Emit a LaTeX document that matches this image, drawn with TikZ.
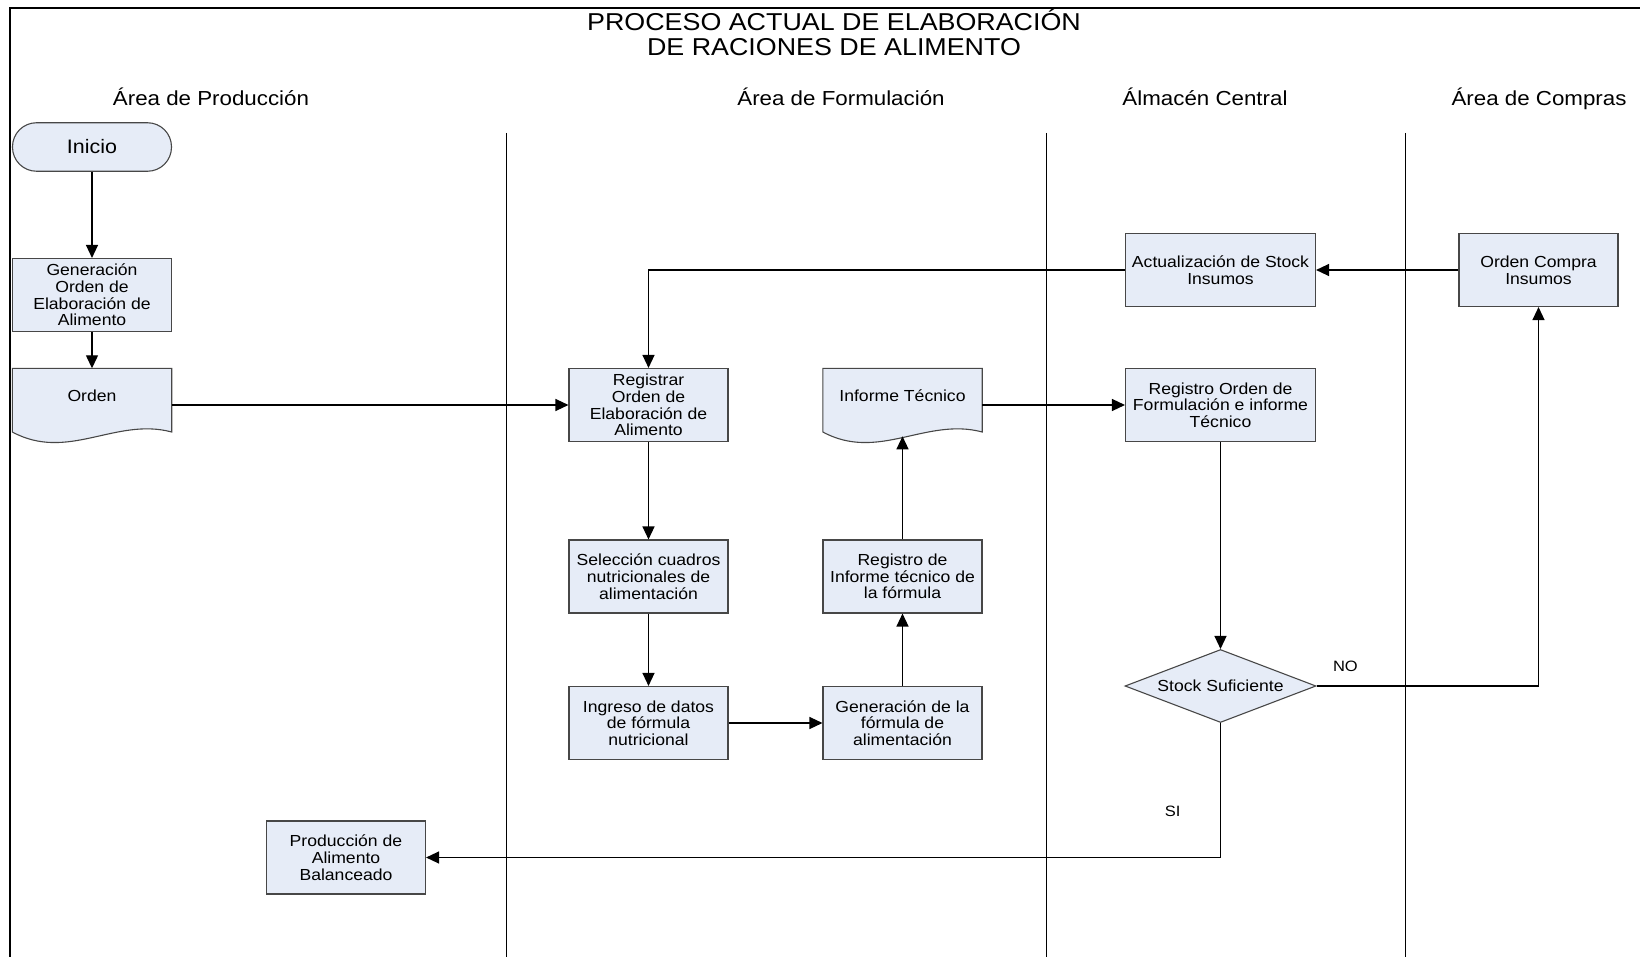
\documentclass[tikz,border=0pt]{standalone}
\usepackage{fontspec}
\setmainfont{Liberation Sans}[FakeStretch=1.1]
\usepackage{tikz}
\usetikzlibrary{arrows.meta,shapes.geometric,calc,backgrounds}
\definecolor{relleno}{HTML}{E6ECF7}
\definecolor{borde}{HTML}{474747}
\tikzstyle{caja} = [draw=borde, line width=1.1pt, fill=relleno, minimum width=159pt, minimum height=73pt, inner sep=2pt, align=center, font=\fontsize{16}{16.7}\selectfont]
\tikzstyle{cajaancha} = [caja, minimum width=190pt]
\tikzstyle{inicio} = [caja, rounded corners=24pt, minimum height=48.5pt, font=\fontsize{19.5}{22}\selectfont]
\tikzstyle{decision} = [caja, diamond, aspect=2.6, minimum width=191pt, minimum height=73pt, inner sep=0pt]
\tikzstyle{doc} = [minimum width=159pt, minimum height=73pt, inner sep=0pt, text height=12pt, text depth=19pt, font=\fontsize{16}{16.7}\selectfont]
\tikzstyle{carril} = [line width=0.9pt]
\tikzstyle{flecha} = [->, line width=1.3pt]
\tikzstyle{rotulo} = [font=\fontsize{15}{17}\selectfont]
\tikzstyle{area} = [anchor=base, font=\fontsize{20.3}{22}\selectfont]

\newcommand{\hojadoc}[1]{%
  \begin{scope}[on background layer]
    \draw[draw=borde, line width=1.1pt, fill=relleno]
      (#1.north west) -- ($(#1.north west)+(0pt,-63.7pt)$)
      .. controls ($(#1.north west)+(55.6pt,-93.7pt)$) and ($(#1.north west)+(103.4pt,-48.7pt)$)
      .. ($(#1.north east)+(0pt,-63.7pt)$) -- (#1.north east) -- cycle;
  \end{scope}
  \coordinate (#1-onda) at ($(#1.north)+(0pt,-68pt)$);
}

\begin{document}
\begin{tikzpicture}[x=1pt, y=-1pt, >={Stealth[inset=0pt,length=13pt,width=12pt]}]
  \useasboundingbox (0,0) rectangle (1640,957);
  \draw[line width=2.3pt] (10,957) -- (10,8) -- (1640,8);

  \node[align=center, font=\fontsize{24.4}{25}\selectfont] (titulo) at (834,33) {PROCESO ACTUAL DE ELABORACIÓN\\DE RACIONES DE ALIMENTO};

  \node[area] (hproduccion) at (211,106) {Área de Producción};
  \node[area] (hformulacion) at (841,106) {Área de Formulación};
  \node[area] (halmacen) at (1205,106) {Álmacén Central};
  \node[area] (hcompras) at (1539,106) {Área de Compras};

  \draw[carril] (506,133) -- (506,957);
  \draw[carril] (1046,133) -- (1046,957);
  \draw[carril] (1405,133) -- (1405,957);

  \node[inicio] (inicio) at (92,147) {Inicio};
  \node[caja] (gen) at (92,295) {Generación\\Orden de\\Elaboración de\\Alimento};
  \node[doc] (orden) at (92,405) {Orden};
  \node[caja] (registrar) at (648.5,405) {Registrar\\Orden de\\Elaboración de\\Alimento};
  \node[caja] (seleccion) at (648.5,576.5) {Selección cuadros\\nutricionales de\\alimentación};
  \node[caja] (ingreso) at (648.5,723) {Ingreso de datos\\de fórmula\\nutricional};
  \node[doc] (informe) at (902.5,405) {Informe Técnico};
  \node[caja] (reginforme) at (902.5,576.5) {Registro de\\Informe técnico de\\la fórmula};
  \node[caja] (genformula) at (902.5,723) {Generación de la\\fórmula de\\alimentación};
  \node[cajaancha] (actualizacion) at (1220.5,270) {Actualización de Stock\\Insumos};
  \node[caja] (compra) at (1538.5,270) {Orden Compra\\Insumos};
  \node[cajaancha] (regorden) at (1220.5,405) {Registro Orden de\\Formulación e informe\\Técnico};
  \node[decision] (stock) at (1220.5,686) {Stock Suficiente};
  \node[caja] (produccion) at (346,857.5) {Producción de\\Alimento\\Balanceado};
  \hojadoc{orden}
  \hojadoc{informe}

  \draw[flecha] (inicio) -- (gen);
  \draw[flecha] (gen) -- (orden);
  \draw[flecha] (orden) -- (registrar);
  \draw[flecha] (actualizacion) -| (registrar);
  \draw[flecha] (compra) -- (actualizacion);
  \draw[flecha] (registrar) -- (seleccion);
  \draw[flecha] (seleccion) -- (ingreso);
  \draw[flecha] (ingreso) -- (genformula);
  \draw[flecha] (genformula) -- (reginforme);
  \draw[flecha] (reginforme) -- (informe-onda);
  \draw[flecha] (informe) -- (regorden);
  \draw[flecha] (regorden) -- (stock);
  \draw[flecha] (stock) -| node[rotulo, pos=0.065, above=10pt] (no) {NO} (compra);
  \draw[flecha] (stock) |- node[rotulo, pos=0.33, left=36pt] (si) {SI} (produccion);
\end{tikzpicture}
\end{document}
